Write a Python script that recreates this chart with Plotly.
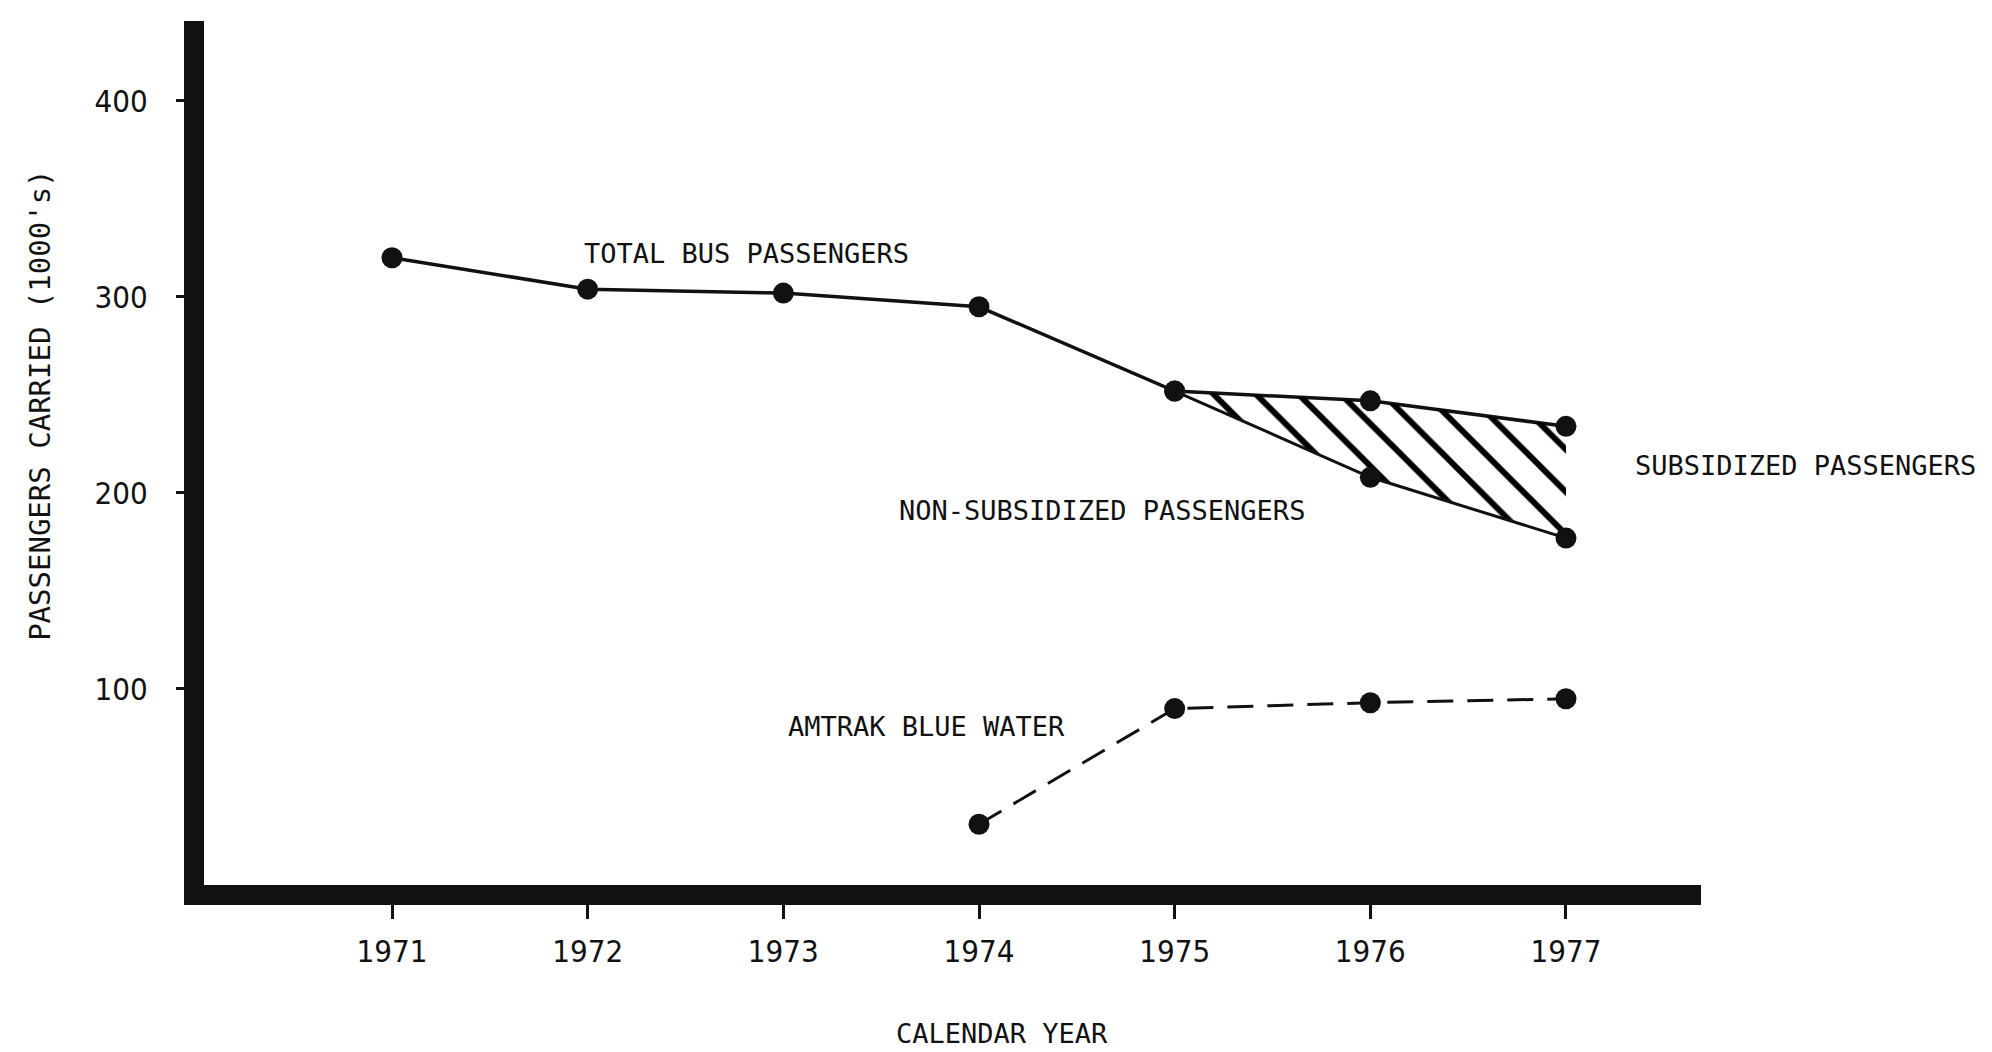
import plotly.graph_objects as go

# ---- data ----
years = [1971, 1972, 1973, 1974, 1975, 1976, 1977]
total_bus = [320, 304, 302, 295, 252, 247, 234]
nonsub_years = [1975, 1976, 1977]
non_subsidized = [252, 208, 177]
amtrak_years = [1974, 1975, 1976, 1977]
amtrak_blue_water = [31, 90, 93, 95]
y_ticks = [100, 200, 300, 400]
x_ticks = years

total_sub = [total_bus[years.index(y)] for y in nonsub_years]

INK = "#111111"
MONO = "DejaVu Sans Mono, Liberation Mono, monospace"
NARROW = "DejaVu Sans Condensed, Liberation Sans Narrow, sans-serif"

fig = go.Figure()

fig.add_trace(go.Scatter(
    x=years, y=total_bus, mode="lines+markers", name="Total bus passengers",
    line=dict(color=INK, width=3.5), marker=dict(color=INK, size=21),
    showlegend=False))

fig.add_trace(go.Scatter(
    x=nonsub_years, y=total_sub, mode="lines", line=dict(width=0, color=INK),
    showlegend=False, hoverinfo="skip"))

fig.add_trace(go.Scatter(
    x=nonsub_years, y=non_subsidized, mode="lines+markers",
    name="Non-subsidized passengers", fill="tonexty",
    fillcolor="rgba(0,0,0,0)",
    fillpattern=dict(shape="\\", size=30, solidity=0.2, fgcolor="black",
                     fgopacity=1, bgcolor="rgba(0,0,0,0)"),
    line=dict(color=INK, width=3), marker=dict(color=INK, size=21),
    showlegend=False))

fig.add_trace(go.Scatter(
    x=amtrak_years, y=amtrak_blue_water, mode="lines+markers",
    name="Amtrak Blue Water",
    line=dict(color=INK, width=3, dash="26px,14px"),
    marker=dict(color=INK, size=21), showlegend=False))

label_font = dict(family=MONO, size=27, color=INK)
annotations = [
    dict(x=1972.81, y=322, text="TOTAL BUS PASSENGERS"),
    dict(x=1974.63, y=191, text="NON-SUBSIDIZED PASSENGERS"),
    dict(x=1977.34, y=214, text="SUBSIDIZED PASSENGERS", xanchor="left"),
    dict(x=1973.73, y=81, text="AMTRAK BLUE WATER"),
]
for a in annotations:
    a.setdefault("xanchor", "center")
    fig.add_annotation(xref="x", yref="y", showarrow=False, font=label_font, **a)

# axis titles (placed as paper-anchored text)
fig.add_annotation(xref="paper", yref="paper", x=0.533, y=-0.192,
                   text="CALENDAR YEAR", showarrow=False,
                   font=dict(family=MONO, size=27, color=INK))
fig.add_annotation(xref="paper", yref="paper", x=-0.122, y=0.555,
                   text="PASSENGERS CARRIED (1000's)", showarrow=False,
                   textangle=-90, font=dict(family=MONO, size=29, color=INK))

fig.update_layout(
    width=1992, height=1052,
    margin=dict(l=196, r=299, t=13, b=175),
    paper_bgcolor="white", plot_bgcolor="white",
    xaxis=dict(
        range=[1970.039, 1977.69], tickmode="array", tickvals=x_ticks,
        ticktext=[str(y) for y in x_ticks],
        showgrid=False, zeroline=False,
        showline=True, linewidth=20, linecolor=INK,
        ticks="outside", ticklen=14, tickwidth=3, tickcolor=INK,
        ticklabelstandoff=6,
        tickfont=dict(family=NARROW, size=31, color=INK),
    ),
    yaxis=dict(
        range=[0, 440.8], tickmode="array", tickvals=y_ticks,
        ticktext=[str(v) for v in y_ticks],
        showgrid=False, zeroline=False,
        showline=True, linewidth=20, linecolor=INK,
        ticks="outside", ticklen=8, tickwidth=3, tickcolor=INK,
        ticklabelstandoff=22,
        tickfont=dict(family=NARROW, size=31, color=INK),
    ),
)

fig.write_html("out.html")
